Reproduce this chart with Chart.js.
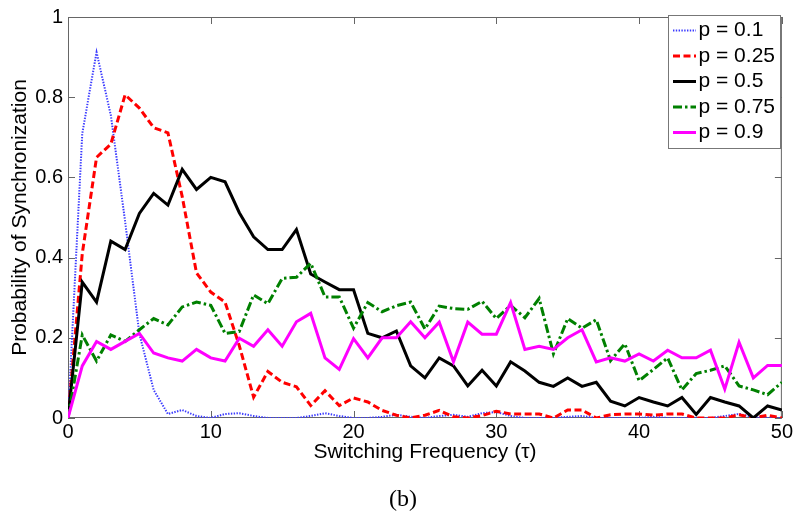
<!DOCTYPE html>
<html><head><meta charset="utf-8">
<script src="https://cdn.jsdelivr.net/npm/chart.js@4/dist/chart.umd.min.js"></script>
<style>html,body{margin:0;padding:0;background:#fff}#wrap{width:795px;height:512px;position:relative}</style>
</head><body><div id="wrap"><canvas id="c" width="795" height="512"></canvas></div>
<script>
// ---- data ----
const tau = [0,1,2,3,4,5,6,7,8,9,10,11,12,13,14,15,16,17,18,19,20,21,22,23,24,25,26,27,28,29,30,31,32,33,34,35,36,37,38,39,40,41,42,43,44,45,46,47,48,49,50];
const seriesLabels = ['p = 0.1','p = 0.25','p = 0.5','p = 0.75','p = 0.9'];
const p010 = [0,0.71,0.912,0.755,0.49,0.21,0.07,0.01,0.02,0.005,0,0.01,0.012,0.005,0,0,0,0.005,0.012,0.005,0,0,0.003,0.008,0.003,0,0.005,0.008,0.003,0.012,0.015,0.005,0,0,0,0.003,0.005,0,0,0,0,0.003,0,0,0,0,0.005,0.01,0.003,0,0];
const p025 = [0,0.41,0.65,0.683,0.806,0.773,0.724,0.711,0.552,0.362,0.314,0.289,0.18,0.052,0.116,0.089,0.078,0.031,0.068,0.031,0.05,0.04,0.019,0.007,0,0.007,0.019,0.003,0,0.006,0.017,0.01,0.01,0.01,0,0.02,0.02,0,0.008,0.01,0.01,0.007,0.01,0.01,0,0,0,0.008,0,0.007,0];
const p050 = [0,0.339,0.289,0.441,0.42,0.51,0.56,0.531,0.62,0.57,0.60,0.589,0.512,0.452,0.42,0.42,0.47,0.359,0.339,0.32,0.32,0.211,0.20,0.217,0.13,0.10,0.15,0.13,0.08,0.119,0.08,0.14,0.117,0.089,0.079,0.10,0.079,0.089,0.042,0.03,0.051,0.04,0.03,0.051,0.009,0.051,0.04,0.03,0,0.03,0.02];
const p075 = [0,0.207,0.142,0.207,0.191,0.22,0.248,0.232,0.277,0.289,0.281,0.211,0.216,0.307,0.285,0.348,0.351,0.386,0.302,0.302,0.224,0.288,0.265,0.28,0.289,0.222,0.279,0.273,0.271,0.291,0.248,0.281,0.25,0.298,0.16,0.248,0.224,0.245,0.143,0.185,0.093,0.121,0.15,0.07,0.111,0.119,0.13,0.08,0.07,0.058,0.089];
const p090 = [0,0.13,0.191,0.171,0.191,0.211,0.162,0.15,0.142,0.171,0.15,0.142,0.199,0.179,0.22,0.179,0.24,0.261,0.15,0.121,0.198,0.15,0.20,0.20,0.24,0.20,0.239,0.14,0.239,0.209,0.209,0.288,0.171,0.179,0.171,0.20,0.22,0.14,0.15,0.142,0.16,0.142,0.169,0.15,0.15,0.169,0.072,0.189,0.10,0.131,0.131];
const xTicks = [0,10,20,30,40,50];
const xTickLabels = ['0','10','20','30','40','50'];
const yTicks = [0,0.2,0.4,0.6,0.8,1];
const yTickLabels = ['0','0.2','0.4','0.6','0.8','1'];

const seriesValues = [p010,p025,p050,p075,p090];
const styles = [
  {color:'#3a3aff', width:2, dash:[1.4,1.4]},
  {color:'#ff0000', width:3, dash:[7,3.5]},
  {color:'#000000', width:3, dash:[]},
  {color:'#008000', width:3, dash:[9,3,2.5,3]},
  {color:'#ff00ff', width:3, dash:[]}
];
const datasets = seriesValues.map((vals,i)=>({
  label: seriesLabels[i],
  data: vals.map((v,j)=>({x:tau[j], y:v})),
  borderColor: styles[i].color,
  backgroundColor: styles[i].color,
  borderWidth: styles[i].width,
  borderDash: styles[i].dash,
  pointRadius: 0,
  tension: 0,
  fill: false,
  order: 4 - i
}));

const AX = '#666';
const framePlugin = {
  id:'frame',
  beforeDatasetsDraw(chart){
    const {ctx, chartArea:a, scales} = chart;
    ctx.save();
    ctx.strokeStyle = AX; ctx.lineWidth = 1;
    ctx.strokeRect(a.left+0.5, a.top+0.5, a.right-a.left-1, a.bottom-a.top-1);
    const L = 7;
    ctx.beginPath();
    xTicks.forEach(v=>{
      const px = Math.round(scales.x.getPixelForValue(v))+0.5;
      ctx.moveTo(px, a.bottom); ctx.lineTo(px, a.bottom-L);
      ctx.moveTo(px, a.top); ctx.lineTo(px, a.top+L);
    });
    yTicks.forEach(v=>{
      const py = Math.round(scales.y.getPixelForValue(v))+0.5;
      ctx.moveTo(a.left, py); ctx.lineTo(a.left+L, py);
      ctx.moveTo(a.right, py); ctx.lineTo(a.right-L, py);
    });
    ctx.stroke();
    ctx.restore();
  },
  afterDraw(chart){
    const {ctx} = chart;
    ctx.save();
    const bx = 668.5, by = 15.5, bw = 112, bh = 133;
    ctx.fillStyle = '#fff';
    ctx.fillRect(bx, by, bw, bh);
    ctx.strokeStyle = '#777'; ctx.lineWidth = 1;
    ctx.strokeRect(bx, by, bw, bh);
    ctx.font = '21px "Liberation Sans", Arial, sans-serif';
    ctx.textBaseline = 'middle';
    ctx.textAlign = 'left';
    chart.data.datasets.forEach((ds,i)=>{
      const y = 30.5 + i*25.5;
      ctx.strokeStyle = ds.borderColor;
      ctx.lineWidth = ds.borderWidth;
      ctx.setLineDash(ds.borderDash);
      ctx.beginPath(); ctx.moveTo(673, y); ctx.lineTo(696, y); ctx.stroke();
      ctx.setLineDash([]);
      ctx.fillStyle = '#000';
      ctx.fillText(ds.label, 698.5, y);
    });
    ctx.font = '24px "Liberation Serif", "Times New Roman", serif';
    ctx.textAlign = 'center';
    ctx.textBaseline = 'alphabetic';
    ctx.fillStyle = '#000';
    ctx.fillText('(b)', 403, 506);
    ctx.restore();
  }
};

new Chart(document.getElementById('c'), {
  type:'line',
  data:{datasets},
  plugins:[framePlugin],
  options:{
    responsive:false,
    animation:false,
    layout:{padding:{left:0,right:12,top:11,bottom:40}},
    plugins:{legend:{display:false}, tooltip:{enabled:false}, title:{display:false}},
    scales:{
      x:{
        type:'linear', min:0, max:50,
        afterBuildTicks(s){ s.ticks = xTicks.map(v=>({value:v})); },
        afterFit(s){ s.height = 54; },
        ticks:{ callback:(v,i)=>xTickLabels[i], font:{family:'"Liberation Sans", Arial, sans-serif', size:20}, color:'#000', padding:2, maxRotation:0, autoSkip:false },
        grid:{display:false, drawTicks:false},
        border:{display:false},
        title:{display:true, text:'Switching Frequency (τ)', font:{family:'"Liberation Sans", Arial, sans-serif', size:21}, color:'#000', padding:{top:0,bottom:7.4}}
      },
      y:{
        type:'linear', min:0, max:1,
        afterBuildTicks(s){ s.ticks = yTicks.map(v=>({value:v})); },
        afterFit(s){ s.width = 68; },
        ticks:{ callback:(v,i)=>yTickLabels[i], font:{family:'"Liberation Sans", Arial, sans-serif', size:20}, color:'#000', padding:5, autoSkip:false },
        grid:{display:false, drawTicks:false},
        border:{display:false},
        title:{display:true, text:'Probability of Synchronization', font:{family:'"Liberation Sans", Arial, sans-serif', size:21}, color:'#000', padding:{top:7.4,bottom:0}}
      }
    }
  }
});
</script>
</body></html>
